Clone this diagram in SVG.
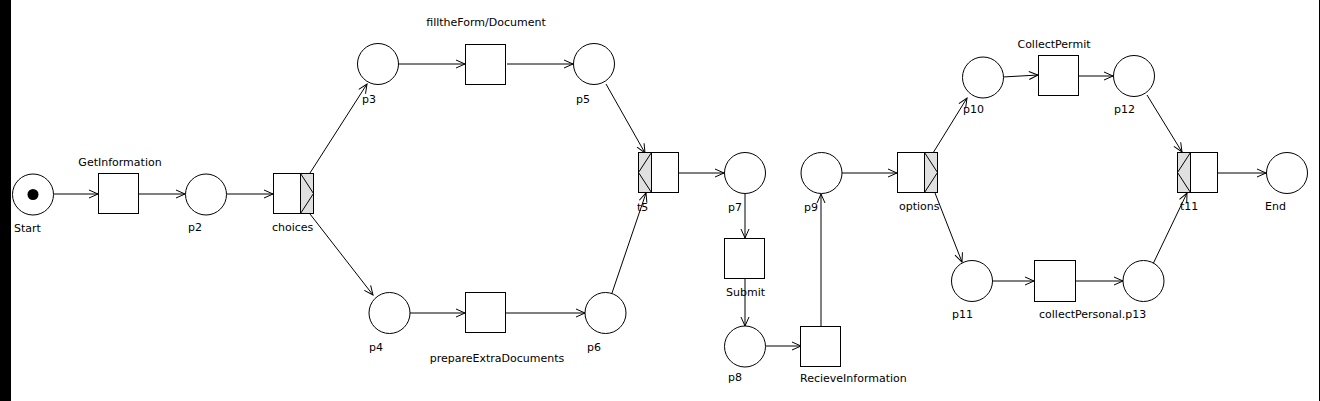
<svg xmlns="http://www.w3.org/2000/svg" width="1320" height="401" viewBox="0 0 1320 401">
<style>
.pl{fill:#fff;stroke:#000;stroke-width:1}
.tr{fill:#fff;stroke:#000;stroke-width:1}
.gr{fill:#e0e0e0;stroke:#000;stroke-width:1}
.ln{fill:none;stroke:#000;stroke-width:1}
.lb{font-family:"DejaVu Sans",Verdana,sans-serif;font-size:11px;fill:#000}
.c{text-anchor:middle}
.arc{fill:none;stroke:#000;stroke-width:1;marker-end:url(#ah)}
</style>
<defs>
<marker id="ah" markerWidth="12" markerHeight="10" refX="10" refY="5" orient="auto" markerUnits="userSpaceOnUse">
<path d="M1,1 L10,5 L1,9" fill="none" stroke="#000" stroke-width="1"/>
</marker>
</defs>
<rect x="0" y="0" width="1320" height="401" fill="#fff"/>
<rect x="0" y="0" width="11" height="401" fill="#000"/>
<rect x="1319" y="0" width="1" height="401" fill="#000"/>

<g id="connectors">
<line class="arc" x1="54" y1="194" x2="98" y2="194"/>
<line class="arc" x1="139" y1="194" x2="185" y2="194"/>
<line class="arc" x1="227" y1="194" x2="273" y2="194"/>
<line class="arc" x1="310" y1="173" x2="367" y2="84"/>
<line class="arc" x1="310" y1="214" x2="373" y2="295"/>
<line class="arc" x1="399" y1="64" x2="465" y2="64"/>
<line class="arc" x1="507" y1="64" x2="573" y2="64"/>
<line class="arc" x1="410" y1="313" x2="465" y2="313"/>
<line class="arc" x1="506" y1="313" x2="585" y2="313"/>
<line class="arc" x1="606" y1="84" x2="645" y2="153"/>
<line class="arc" x1="612" y1="293" x2="646" y2="193"/>
<line class="arc" x1="679" y1="173" x2="724" y2="173"/>
<line class="arc" x1="745" y1="194" x2="745" y2="238"/>
<line class="arc" x1="745" y1="279" x2="745" y2="326"/>
<line class="arc" x1="766" y1="346" x2="801" y2="346"/>
<line class="arc" x1="821" y1="326" x2="821" y2="194"/>
<line class="arc" x1="842" y1="173" x2="897" y2="173"/>
<line class="arc" x1="933" y1="153" x2="967" y2="98"/>
<line class="arc" x1="935" y1="193" x2="962" y2="262"/>
<line class="arc" x1="1003" y1="77" x2="1038" y2="75"/>
<line class="arc" x1="1079" y1="76" x2="1113" y2="76"/>
<line class="arc" x1="1147" y1="95" x2="1182" y2="152"/>
<line class="arc" x1="993" y1="281" x2="1034" y2="281"/>
<line class="arc" x1="1076" y1="281" x2="1123" y2="281"/>
<line class="arc" x1="1153" y1="264" x2="1187" y2="193"/>
<line class="arc" x1="1218" y1="173" x2="1266" y2="173"/>
</g>

<g id="Start"><circle class="pl" cx="33" cy="194.5" r="20.5"/><circle cx="33" cy="194.5" r="5.5" fill="#000"/><text class="lb" x="14" y="232">Start</text></g>
<g id="GetInformation"><rect class="tr" x="98.5" y="173.5" width="40" height="40"/><text class="lb c" x="120" y="166">GetInformation</text></g>
<g id="p2"><circle class="pl" cx="206" cy="194.5" r="20.5"/><text class="lb" x="188" y="231">p2</text></g>
<g id="choices"><rect class="tr" x="273.5" y="173.5" width="27" height="40"/><rect class="gr" x="300.5" y="173.5" width="13" height="40"/><path class="ln" d="M300.5,173.5 L313.5,193.5 L300.5,213.5"/><text class="lb" x="272" y="231">choices</text></g>
<g id="p3"><circle class="pl" cx="378" cy="64" r="20.5"/><text class="lb" x="362" y="103">p3</text></g>
<g id="filltheForm"><rect class="tr" x="465.5" y="44.5" width="40" height="40"/><text class="lb c" x="486" y="26">filltheForm/Document</text></g>
<g id="p5"><circle class="pl" cx="594" cy="64" r="20.5"/><text class="lb" x="576" y="103">p5</text></g>
<g id="p4"><circle class="pl" cx="389.5" cy="313" r="20.5"/><text class="lb" x="369" y="351">p4</text></g>
<g id="prepareExtraDocuments"><rect class="tr" x="465.5" y="292.5" width="40" height="40"/><text class="lb c" x="497" y="362">prepareExtraDocuments</text></g>
<g id="p6"><circle class="pl" cx="605.5" cy="313" r="20.5"/><text class="lb" x="587" y="351">p6</text></g>
<g id="t5"><rect class="gr" x="638.5" y="152.5" width="13" height="40"/><rect class="tr" x="651.5" y="152.5" width="27" height="40"/><path class="ln" d="M651.5,152.5 L638.5,172.5 L651.5,192.5"/><text class="lb" x="637" y="211">t5</text></g>
<g id="p7"><circle class="pl" cx="745" cy="173" r="20.5"/><text class="lb" x="728" y="211">p7</text></g>
<g id="Submit"><rect class="tr" x="724.5" y="238.5" width="40" height="40"/><text class="lb" x="726" y="296">Submit</text></g>
<g id="p8"><circle class="pl" cx="745" cy="346.5" r="20.5"/><text class="lb" x="728" y="381">p8</text></g>
<g id="RecieveInformation"><rect class="tr" x="800.5" y="326.5" width="40" height="40"/><text class="lb" x="800" y="382">RecieveInformation</text></g>
<g id="p9"><circle class="pl" cx="821.5" cy="173" r="20.5"/><text class="lb" x="804" y="211">p9</text></g>
<g id="options"><rect class="tr" x="897.5" y="152.5" width="27" height="40"/><rect class="gr" x="924.5" y="152.5" width="13" height="40"/><path class="ln" d="M924.5,152.5 L937.5,172.5 L924.5,192.5"/><text class="lb" x="899" y="210">options</text></g>
<g id="p10"><circle class="pl" cx="983" cy="77.5" r="20.5"/><text class="lb" x="963" y="113">p10</text></g>
<g id="CollectPermit"><rect class="tr" x="1038.5" y="55.5" width="40" height="40"/><text class="lb c" x="1054" y="48">CollectPermit</text></g>
<g id="p12"><circle class="pl" cx="1134" cy="76" r="20.5"/><text class="lb" x="1114" y="113">p12</text></g>
<g id="t11"><rect class="gr" x="1177.5" y="152.5" width="13" height="40"/><rect class="tr" x="1190.5" y="152.5" width="27" height="40"/><path class="ln" d="M1190.5,152.5 L1177.5,172.5 L1190.5,192.5"/><text class="lb" x="1180" y="210">t11</text></g>
<g id="End"><circle class="pl" cx="1287" cy="173" r="20.5"/><text class="lb" x="1265" y="210">End</text></g>
<g id="p11"><circle class="pl" cx="972" cy="281" r="20.5"/><text class="lb" x="952" y="318">p11</text></g>
<g id="collectPersonal"><rect class="tr" x="1034.5" y="260.5" width="41" height="41"/><text class="lb" x="1039" y="318">collectPersonal.p13</text></g>
<g id="p13"><circle class="pl" cx="1143.5" cy="281" r="20.5"/></g>
</svg>
